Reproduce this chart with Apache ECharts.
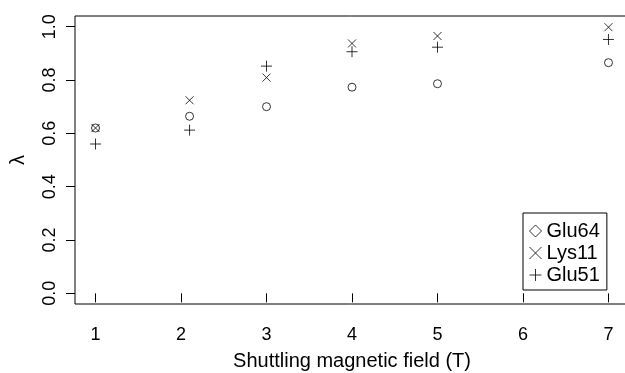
<!DOCTYPE html>
<html>
<head>
<meta charset="utf-8">
<script src="https://cdn.jsdelivr.net/npm/echarts@6/dist/echarts.min.js"></script>
<style>html,body{margin:0;padding:0;background:#fff}#c{width:625px;height:373px}</style>
</head>
<body>
<div id="c"></div>
<script>
var fields = [1, 2.1, 3, 4, 5, 7];
var glu64 = [0.62, 0.664, 0.70, 0.773, 0.786, 0.865];
var lys11 = [0.62, 0.724, 0.809, 0.937, 0.965, 0.998];
var glu51 = [0.56, 0.612, 0.852, 0.906, 0.923, 0.952];
var xTicks = [1, 2, 3, 4, 5, 6, 7];
var yTicks = [0, 0.2, 0.4, 0.6, 0.8, 1.0];

function pairs(xs, ys){ return xs.map(function(x,i){ return [x, ys[i]]; }); }

var crossPath = 'path://M0,0L10,10M10,0L0,10';
var plusPath = 'path://M5,0L5,10M0,5L10,5';
var diamondPath = 'path://M5,0L10,5L5,10L0,5Z';
var FONT = '"Liberation Sans", Arial, sans-serif';
var thin = {color: 'none', borderColor: '#000', borderWidth: 1};

var chart = echarts.init(document.getElementById('c'), null, {renderer:'canvas'});
chart.setOption({
  animation: false,
  grid: {left: 75, top: 16, right: -4, bottom: 69, outerBoundsMode: 'none', containLabel: false,
         show: true, borderColor: '#000', borderWidth: 1, backgroundColor: 'transparent'},
  xAxis: {
    type: 'value', min: 0.76, max: 7.24,
    name: 'Shuttling magnetic field (T)', nameLocation: 'middle', nameGap: 47,
    nameTextStyle: {fontFamily: FONT, fontSize: 20, color: '#000'},
    axisLine: {show: false},
    splitLine: {show: false},
    axisTick: {show: true, length: 9, customValues: xTicks, lineStyle: {color: '#000'}},
    axisLabel: {customValues: xTicks, margin: 22, fontFamily: FONT, fontSize: 18, color: '#000'}
  },
  yAxis: {
    type: 'value', min: -0.04, max: 1.04,
    name: 'λ', nameLocation: 'middle', nameGap: 47, nameRotate: 90,
    nameTextStyle: {fontFamily: FONT, fontSize: 20, color: '#000'},
    axisLine: {show: false},
    splitLine: {show: false},
    axisTick: {show: true, length: 9, customValues: yTicks, lineStyle: {color: '#000'}},
    axisLabel: {customValues: yTicks, rotate: 90, margin: 16, fontFamily: FONT, fontSize: 18, color: '#000',
      formatter: function(v){ return v.toFixed(1); }}
  },
  legend: {
    orient: 'vertical', left: 523, top: 213,
    padding: [8, 7, 5, 4], itemGap: 2, itemWidth: 12, itemHeight: 12,
    borderColor: '#000', borderWidth: 1, borderRadius: 0,
    textStyle: {fontFamily: FONT, fontSize: 20, color: '#000', lineHeight: 20},
    data: [
      {name: 'Glu64', icon: diamondPath, itemStyle: thin},
      {name: 'Lys11', icon: crossPath, itemStyle: thin},
      {name: 'Glu51', icon: plusPath, itemStyle: thin}
    ]
  },
  series: [
    {name: 'Glu64', type: 'scatter', data: pairs(fields, glu64), symbol: 'circle', symbolSize: 8, itemStyle: thin},
    {name: 'Lys11', type: 'scatter', data: pairs(fields, lys11), symbol: crossPath, symbolSize: 8, itemStyle: thin},
    {name: 'Glu51', type: 'scatter', data: pairs(fields, glu51), symbol: plusPath, symbolSize: 11, itemStyle: thin}
  ]
});
</script>
</body>
</html>
